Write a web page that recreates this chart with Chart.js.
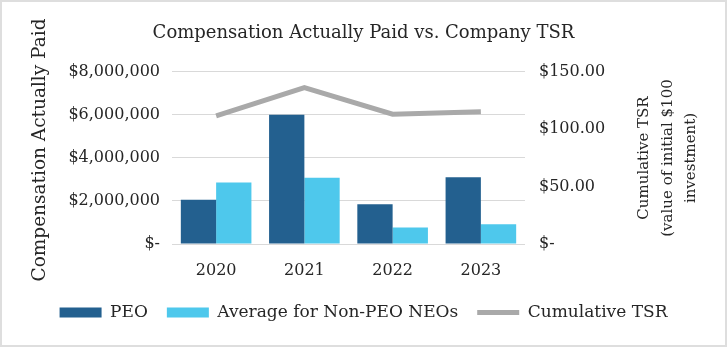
<!DOCTYPE html>
<html>
<head>
<meta charset="utf-8">
<script src="https://cdn.jsdelivr.net/npm/chart.js@4.4.1/dist/chart.umd.min.js"></script>
<style>
  html, body { margin: 0; padding: 0; background: #fff; }
  .frame { width: 723px; height: 343px; border: 2px solid #dedede; }
  canvas { display: block; }
</style>
</head>
<body>
<div class="frame"><canvas id="capChart" width="723" height="343"></canvas></div>
<script>
const years = ['2020', '2021', '2022', '2023'];
const peoPaid = [2050000, 6000000, 1850000, 3100000];
const neoAvgPaid = [2850000, 3080000, 760000, 920000];
const cumulativeTsr = [111.5, 136, 113, 115];
const leftTitleText = 'Compensation Actually Paid';
const rightTitleLines = ['Cumulative TSR', '(value of initial $100', 'investment)'];

const serif = "'DejaVu Serif', serif";
const textColor = '#262626';

function money(value, decimals) {
    if (value === 0) return '$-';
    return '$' + value.toLocaleString('en-US', { minimumFractionDigits: decimals, maximumFractionDigits: decimals });
}

// both axis titles read bottom-to-top, drawn by hand so they sit where wanted
const axisTitles = {
    id: 'axisTitles',
    afterDraw(chart) {
        const ctx = chart.ctx;
        ctx.save();
        ctx.fillStyle = textColor;
        ctx.textAlign = 'center';
        ctx.textBaseline = 'middle';

        ctx.save();
        ctx.translate(38, 148);
        ctx.rotate(-Math.PI / 2);
        ctx.font = '18.5px ' + serif;
        ctx.fillText(leftTitleText, 0, 0);
        ctx.restore();

        ctx.save();
        ctx.translate(666, 156);
        ctx.rotate(-Math.PI / 2);
        ctx.font = '15px ' + serif;
        rightTitleLines.forEach((line, i) => {
            ctx.fillText(line, 0, (i - 1) * 23.5);
        });
        ctx.restore();

        ctx.restore();
    }
};

new Chart(document.getElementById('capChart'), {
    type: 'bar',
    data: {
        labels: years,
        datasets: [
            {
                label: 'PEO',
                data: peoPaid,
                backgroundColor: '#23608f',
                borderWidth: 0,
                pointStyle: 'rect',
                yAxisID: 'y'
            },
            {
                label: 'Average for Non-PEO NEOs',
                data: neoAvgPaid,
                backgroundColor: '#4ec8ec',
                borderWidth: 0,
                pointStyle: 'rect',
                yAxisID: 'y'
            },
            {
                type: 'line',
                label: 'Cumulative TSR',
                data: cumulativeTsr,
                borderColor: '#a9a9a9',
                backgroundColor: '#a9a9a9',
                borderWidth: 5,
                pointRadius: 0,
                pointStyle: 'line',
                tension: 0,
                yAxisID: 'y1'
            }
        ]
    },
    options: {
        responsive: false,
        animation: false,
        layout: { padding: { bottom: 14 } },
        datasets: {
            bar: { categoryPercentage: 0.8, barPercentage: 1.0 }
        },
        scales: {
            x: {
                grid: { display: false },
                border: { display: false },
                ticks: { color: textColor, font: { family: serif, size: 16 }, padding: 9 },
                afterFit(scale) { scale.height = 41; }
            },
            y: {
                min: 0,
                max: 8000000,
                ticks: {
                    stepSize: 2000000,
                    color: textColor,
                    font: { family: serif, size: 16 },
                    padding: 12,
                    callback: v => money(v, 0)
                },
                grid: { color: '#d9d9d9', drawTicks: false },
                border: { display: false },
                afterFit(scale) { scale.width = 170; }
            },
            y1: {
                position: 'right',
                min: 0,
                max: 150,
                ticks: {
                    stepSize: 50,
                    color: textColor,
                    font: { family: serif, size: 16 },
                    padding: 14,
                    callback: v => money(v, 2)
                },
                grid: { display: false, drawTicks: false },
                border: { display: false },
                afterFit(scale) { scale.width = 200; }
            }
        },
        plugins: {
            title: {
                display: true,
                text: 'Compensation Actually Paid vs. Company TSR',
                color: textColor,
                font: { family: serif, size: 18, weight: 'normal' },
                padding: { top: 21, bottom: 27 }
            },
            legend: {
                position: 'bottom',
                labels: {
                    usePointStyle: true,
                    pointStyleWidth: 42,
                    boxHeight: 10,
                    padding: 19,
                    color: textColor,
                    font: { family: serif, size: 17 }
                }
            },
            tooltip: { enabled: false }
        }
    },
    plugins: [axisTitles]
});
</script>
</body>
</html>
